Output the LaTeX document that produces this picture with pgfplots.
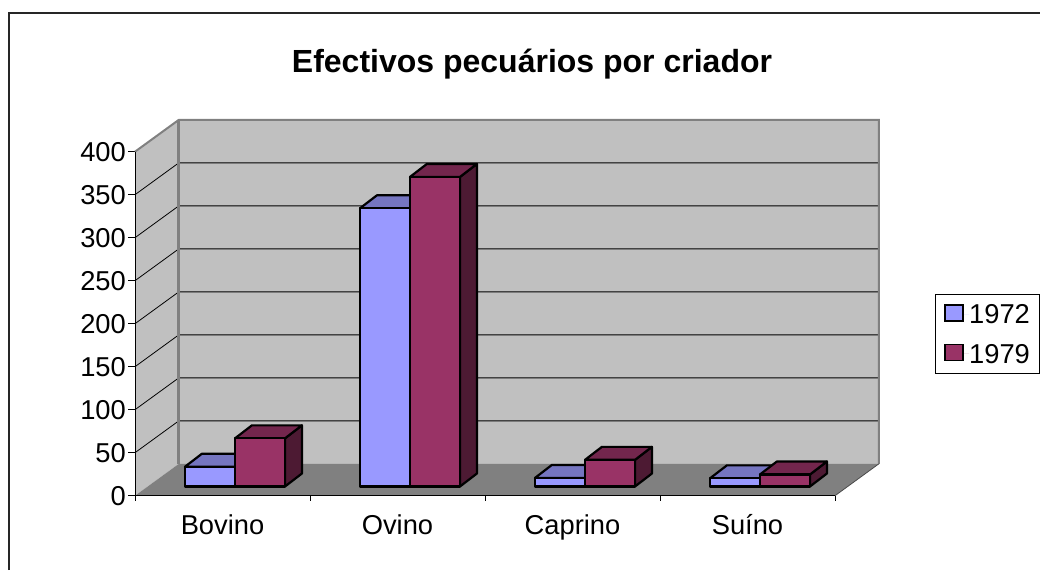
\documentclass[border=0pt]{standalone}
\usepackage{fontspec}
\setmainfont{Liberation Sans}
\usepackage{pgfplots}
\pgfplotsset{compat=1.18}
\definecolor{wall}{RGB}{192,192,192}
\definecolor{floorc}{RGB}{128,128,128}
\definecolor{bf}{RGB}{153,153,255}
\definecolor{bt}{RGB}{117,117,192}
\definecolor{bs}{RGB}{77,77,128}
\definecolor{rf}{RGB}{153,51,102}
\definecolor{rt}{RGB}{115,38,77}
\definecolor{rs}{RGB}{77,26,51}
% left edge (category units), value, front, top, side colours
\newcommand{\tdbar}[5]{%
  \pgfmathsetmacro{\xa}{#1}%
  \pgfmathsetmacro{\xb}{#1+0.2857}%
  \pgfmathsetmacro{\xc}{#1+0.0966}%
  \pgfmathsetmacro{\xd}{#1+0.2857+0.0966}%
  \pgfmathsetmacro{\ya}{10.7}%
  \pgfmathsetmacro{\yb}{10.7+#2}%
  \pgfmathsetmacro{\yc}{10.7+#2+15.1}%
  \pgfmathsetmacro{\ye}{10.7+15.1}%
  \addplot[fill=#5,draw=black,line width=2.2pt,line join=round,forget plot] coordinates {(\xb,\ya)(\xd,\ye)(\xd,\yc)(\xb,\yb)} --cycle;
  \addplot[fill=#4,draw=black,line width=2.2pt,line join=round,forget plot] coordinates {(\xa,\yb)(\xb,\yb)(\xd,\yc)(\xc,\yc)} --cycle;
  \addplot[fill=#3,draw=black,line width=2.2pt,line join=round,forget plot] coordinates {(\xa,\ya)(\xb,\ya)(\xb,\yb)(\xa,\yb)} --cycle;
}
\begin{document}
\begin{tikzpicture}[x=1pt,y=1pt]
\path[use as bounding box] (0,0) rectangle (1040,-570);
\draw[line width=1.2pt,black!85] (9,-570) -- (9,-13) -- (1040,-13);
\begin{axis}[
  at={(135pt,-495.7pt)}, anchor=south west,
  scale only axis, width=743.75pt, height=375.82pt,
  xmin=0, xmax=4.25, ymin=0, ymax=437,
  clip=false,
  axis line style={draw=none},
  tick align=outside,
  xtick pos=bottom, ytick pos=left,
  xtick={0.5,1.5,2.5,3.5},
  xticklabels={Bovino,Ovino,Caprino,Suíno},
  minor xtick={0,1,2,3,4},
  major x tick style={draw=none},
  minor x tick style={black,line width=0.8pt},
  minor tick length=5pt,
  ytick={0,50,...,400},
  major y tick style={black,line width=0.8pt},
  major tick length=7pt,
  /pgf/number format/assume math mode=true,
  tick label style={font=\fontsize{27.3}{29}\selectfont},
  xticklabel style={inner sep=0pt,anchor=center,text height=19pt,text depth=6pt,yshift=-25pt},
  yticklabel style={inner sep=0pt,anchor=east,xshift=-2pt},
  title={Efectivos pecuários por criador},
  title style={font=\bfseries\fontsize{32}{34}\selectfont,at={(axis description cs:0.5338,1.154)},anchor=center,inner sep=0pt,yshift=-8pt},
  legend style={at={(axis description cs:1.0756,0.5367)},anchor=north west,draw=black,line width=0.8pt,
    font=\fontsize{27.3}{29}\selectfont,inner xsep=9pt,inner ysep=10pt,row sep=20pt,
    nodes={inner sep=0pt,text height=19pt,text depth=0pt},
    /tikz/every even column/.append style={column sep=0pt}},
  legend cell align=left,
  legend image code/.code={\path[draw=none] (0pt,0pt) -- (24pt,0pt);\draw[#1] (0pt,-7pt) rectangle (18pt,9pt);},
]
% walls and floor
\addplot[fill=wall,draw=none,forget plot] coordinates {(0,0)(0.25,37)(0.25,437)(0,400)} --cycle;
\addplot[fill=wall,draw=none,forget plot] coordinates {(0.25,37)(4.25,37)(4.25,437)(0.25,437)} --cycle;
\addplot[fill=floorc,draw=none,forget plot] coordinates {(0,0)(4,0)(4.25,37)(0.25,37)} --cycle;
% gridlines
\addplot[black,line width=0.8pt,forget plot] coordinates {(0,50)(0.25,87)(4.25,87)};
\addplot[black,line width=0.8pt,forget plot] coordinates {(0,100)(0.25,137)(4.25,137)};
\addplot[black,line width=0.8pt,forget plot] coordinates {(0,150)(0.25,187)(4.25,187)};
\addplot[black,line width=0.8pt,forget plot] coordinates {(0,200)(0.25,237)(4.25,237)};
\addplot[black,line width=0.8pt,forget plot] coordinates {(0,250)(0.25,287)(4.25,287)};
\addplot[black,line width=0.8pt,forget plot] coordinates {(0,300)(0.25,337)(4.25,337)};
\addplot[black,line width=0.8pt,forget plot] coordinates {(0,350)(0.25,387)(4.25,387)};
% wall edges
\addplot[floorc,line width=2pt,forget plot] coordinates {(0,400)(0.25,437)(4.25,437)(4.25,37)};
\addplot[floorc,line width=2.6pt,forget plot] coordinates {(0.25,37)(0.25,437)};
\addplot[black!70,line width=0.8pt,forget plot] coordinates {(4,0)(4.25,37)};
% axis lines
\addplot[black,line width=0.9pt,forget plot] coordinates {(0,400)(0,0)(4,0)};
% bars
\tdbar{0.2857}{23}{bf}{bt}{bs}
\tdbar{0.5714}{56}{rf}{rt}{rs}
\tdbar{1.2857}{323.5}{bf}{bt}{bs}
\tdbar{1.5714}{360}{rf}{rt}{rs}
\tdbar{2.2857}{10}{bf}{bt}{bs}
\tdbar{2.5714}{31}{rf}{rt}{rs}
\tdbar{3.2857}{9.5}{bf}{bt}{bs}
\tdbar{3.5714}{14}{rf}{rt}{rs}
\addlegendimage{fill=bf,draw=black,line width=1.6pt}
\addlegendentry{1972}
\addlegendimage{fill=rf,draw=black,line width=1.6pt}
\addlegendentry{1979}
\end{axis}
\end{tikzpicture}
\end{document}
